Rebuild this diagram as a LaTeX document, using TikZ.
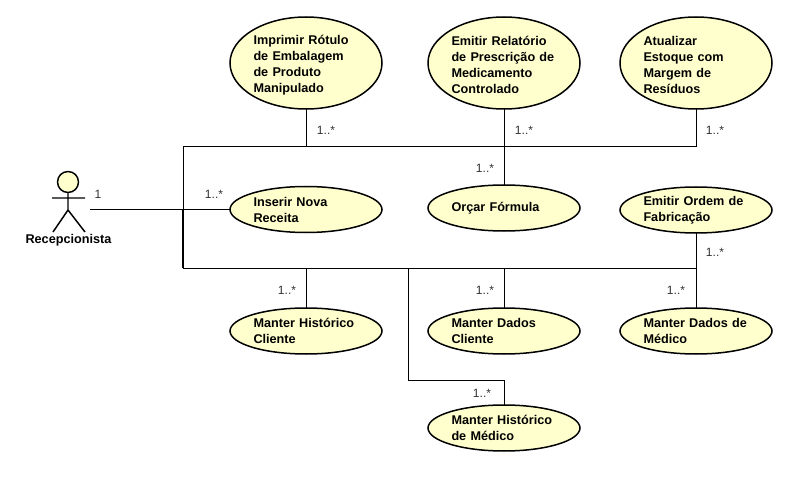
\documentclass[tikz,border=0pt]{standalone}
\usepackage{fontspec}
\setmainfont{Liberation Sans}
\usetikzlibrary{shapes.geometric}
\definecolor{ucfill}{RGB}{255,255,206}
\definecolor{lblgray}{RGB}{50,50,50}
\newcommand{\tallstrut}{\rule{0pt}{10.5pt}}
\tikzset{
  usecase/.style={ellipse,draw=black,fill=ucfill,line width=1.5*0.75pt,minimum width=152*0.75pt,minimum height=46*0.75pt,inner sep=0pt,outer sep=0pt,text width=105*0.75pt,align=left,font=\fontsize{9.5pt}{12pt}\selectfont\bfseries},
  tall/.style={minimum height=92*0.75pt},
  assoc/.style={draw=black,line width=0.75pt},
  heavy/.style={draw=black,line width=1.25pt},
  mult/.style={font=\fontsize{9pt}{11pt}\selectfont,text=lblgray,inner sep=0pt},
  stick/.style={draw=black,line width=1.1pt}
}
\begin{document}
\begin{tikzpicture}[x=0.75pt,y=-0.75pt]
\useasboundingbox (0,0) rectangle (790,478);
\fill[white] (0,0) rectangle (790,478);
% junctions
\coordinate (tl) at (183,147);
\coordinate (bl) at (183,268);
\coordinate (jm) at (183,209.5);
\coordinate (t1) at (306,147);
\coordinate (t2) at (504,147);
\coordinate (t3) at (696,147);
\coordinate (b1) at (306,268);
\coordinate (b2) at (504,268);
\coordinate (b3) at (696,268);
\coordinate (b4) at (408.5,268);
\coordinate (c4) at (408.5,380);
\coordinate (d4) at (504,380);
\coordinate (actorend) at (90,209.5);
% connectors
\draw[assoc] (t3) -- (tl) -- (jm);
\draw[heavy] (actorend) -- (jm) -- (bl);
\draw[assoc] (bl) -- (b3);
% use cases
\node[usecase,tall] (u1) at (306,63) {\tallstrut Imprimir Rótulo\\de Embalagem\\de Produto\\Manipulado};
\node[usecase,tall] (u2) at (504,63) {\tallstrut Emitir Relatório\\de Prescrição de\\Medicamento\\Controlado};
\node[usecase,tall] (u3) at (696,63) {\tallstrut Atualizar\\Estoque com\\Margem de\\Resíduos};
\node[usecase] (u4) at (306,209.5) {Inserir Nova\\Receita};
\node[usecase] (u5) at (504,208) {Orçar Fórmula};
\node[usecase] (u6) at (696,210) {Emitir Ordem de\\Fabricação};
\node[usecase] (u7) at (306,331) {Manter Histórico\\Cliente};
\node[usecase] (u8) at (504,331) {Manter Dados\\Cliente};
\node[usecase] (u9) at (696,331) {Manter Dados de\\Médico};
\node[usecase] (u10) at (504,428) {Manter Histórico\\de Médico};
\draw[assoc] (u1.south) -- (t1);
\draw[assoc] (u2.south) -- (u5.north);
\draw[assoc] (u3.south) -- (t3);
\draw[assoc] (jm) -- (u4.west);
\draw[assoc] (u6.south) -- (u9.north);
\draw[assoc] (b1) -- (u7.north);
\draw[assoc] (b2) -- (u8.north);
\draw[assoc] (b4) -- (c4) -- (d4) -- (u10.north);
% actor
\node[circle,draw=black,fill=ucfill,line width=1.1pt,minimum size=21*0.75pt,inner sep=0pt,outer sep=0pt] (head) at (68,182) {};
\coordinate (hip) at (68,210);
\coordinate (armL) at (52,198);
\coordinate (armR) at (85,198);
\coordinate (footL) at (53,232);
\coordinate (footR) at (85,232);
\draw[stick] (head.south) -- (hip) (armL) -- (armR) (footL) -- (hip) -- (footR);
\node[font=\fontsize{9.5pt}{12pt}\selectfont\bfseries,inner sep=0pt] (actorlabel) at (68.5,240) {Recepcionista};
% multiplicities
\node[mult] (m0) at (98,194.5) {1};
\node[mult] (m1) at (214,194) {1..*};
\node[mult] (m2) at (326,130) {1..*};
\node[mult] (m3) at (524,130) {1..*};
\node[mult] (m4) at (715,130) {1..*};
\node[mult] (m5) at (485,168) {1..*};
\node[mult] (m6) at (715,252) {1..*};
\node[mult] (m7) at (287,290) {1..*};
\node[mult] (m8) at (485,290) {1..*};
\node[mult] (m9) at (676,290) {1..*};
\node[mult] (m10) at (482,393) {1..*};
\end{tikzpicture}
\end{document}
